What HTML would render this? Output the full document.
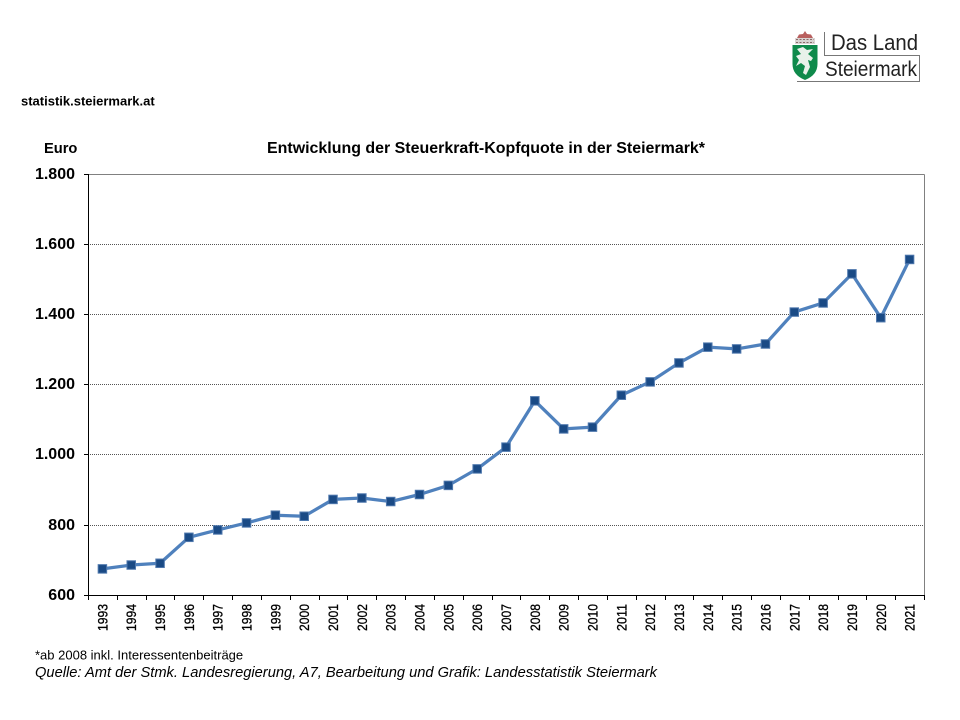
<!DOCTYPE html>
<html lang="de">
<head>
<meta charset="utf-8">
<title>Entwicklung der Steuerkraft-Kopfquote in der Steiermark</title>
<style>
html,body{margin:0;padding:0;background:#fff;}
svg{display:block;font-family:"Liberation Sans",sans-serif;}
</style>
</head>
<body>
<svg id="chart" width="960" height="720" viewBox="0 0 960 720" xmlns="http://www.w3.org/2000/svg">
  <rect width="960" height="720" fill="#fff"/>
  <g id="logo">
    <path d="M797 38 L799 34.500 L803 34 L805 31 L807 34 L811 34.500 L813 38 Z" fill="#b9605f"/>
    <rect x="795" y="38" width="20" height="6" fill="#d9d4d2"/>
    <path d="M796 39.500 H814 M796 42.500 H814" stroke="#8a6a6a" stroke-width="1" stroke-dasharray="2 1.500"/>
    <path d="M792.500 45 H817.500 V64 Q817.500 75 805 80 Q792.500 75 792.500 64 Z" fill="#0f8a4b"/>
    <path d="M797 49 L803 47 L807 50 L813 49 L808 54 L813 58 L811 61 L808 60 L810 67 L806 75 L803 73 L805 66 L801 63 L796 66 L799 60 L796 56 L801 54 Z" fill="#e8f1ea"/>
    <path d="M824.500 32 V55.500 H919.500 V81.500 H797" fill="none" stroke="#777" stroke-width="1"/>
    <text x="831" y="50" font-size="22" fill="#222" textLength="87" lengthAdjust="spacingAndGlyphs">Das Land</text>
    <text x="825" y="76" font-size="21.500" fill="#222" textLength="92" lengthAdjust="spacingAndGlyphs">Steiermark</text>
  </g>
  <text x="21" y="105.500" font-size="13" font-weight="700" fill="#000">statistik.steiermark.at</text>
  <text x="44" y="153" font-size="14.670" font-weight="700" fill="#000">Euro</text>
  <text x="267" y="153" font-size="15.500" font-weight="700" fill="#000" textLength="438" lengthAdjust="spacingAndGlyphs">Entwicklung der Steuerkraft-Kopfquote in der Steiermark*</text>
  <g id="grid"></g>
  <g id="axes"></g>
  <g id="series"></g>
  <text x="35" y="659.500" font-size="13" fill="#000">*ab 2008 inkl. Interessentenbeiträge</text>
  <text x="35" y="677" font-size="15" font-style="italic" fill="#000" textLength="622" lengthAdjust="spacingAndGlyphs">Quelle: Amt der Stmk. Landesregierung, A7, Bearbeitung und Grafik: Landesstatistik Steiermark</text>
</svg>
<script>
const categories = ['1993','1994','1995','1996','1997','1998','1999','2000','2001','2002','2003','2004','2005','2006','2007','2008','2009','2010','2011','2012','2013','2014','2015','2016','2017','2018','2019','2020','2021'];
const seriesValues = [675,686,691,765,786,806,828,825,873,877,867,887,913,960,1022,1154,1074,1079,1170,1208,1262,1307,1302,1316,1407,1433,1516,1391,1557];
const yTicks = [600,800,1000,1200,1400,1600,1800];
const yTickLabels = ['600','800','1.000','1.200','1.400','1.600','1.800'];

const NS = 'http://www.w3.org/2000/svg';
const plotLeft = 88, plotRight = 924, plotTop = 174.2, plotBottom = 595.2;
const yMin = 600, yMax = 1800;
const band = (plotRight - plotLeft) / categories.length;
const xPos = i => plotLeft + band * (i + 0.5);
const xEdge = i => plotLeft + band * i;
const yPos = v => plotBottom - (v - yMin) / (yMax - yMin) * (plotBottom - plotTop);
const axisTop = Math.floor(plotTop) + 0.5, axisBottom = Math.floor(plotBottom) + 0.5;

function make(tag, attrs, parent, text) {
  const el = document.createElementNS(NS, tag);
  for (const k in attrs) el.setAttribute(k, attrs[k]);
  if (text !== undefined) el.textContent = text;
  parent.appendChild(el);
  return el;
}

const grid = document.getElementById('grid');
const axes = document.getElementById('axes');
const series = document.getElementById('series');

yTicks.forEach((t, i) => {
  const y = Math.floor(yPos(t)) + 0.5;
  if (t > yMin && t < yMax) {
    const g = make('line', {x1: plotLeft, x2: plotRight, y1: y, y2: y, stroke: '#555', 'stroke-width': 1, 'stroke-dasharray': '1 1'}, grid);
    
    
  }
  const tick = make('line', {x1: plotLeft - 4, x2: plotLeft, y1: y, y2: y, stroke: '#000', 'stroke-width': 1}, axes);
  
  
  const lab = make('text', {x: plotLeft - 13, y: y + 4.5, 'text-anchor': 'end', 'font-size': 16, 'font-weight': 700, fill: '#000'}, axes, yTickLabels[i]);
  
  
});

const topLine = make('line', {x1: plotLeft, x2: plotRight + 0.5, y1: axisTop, y2: axisTop, stroke: '#808080', 'stroke-width': 1}, axes);


const rightLine = make('line', {x1: plotRight + 0.5, x2: plotRight + 0.5, y1: axisTop, y2: axisBottom, stroke: '#808080', 'stroke-width': 1}, axes);


const yAxis = make('line', {x1: plotLeft + 0.5, x2: plotLeft + 0.5, y1: axisTop - 0.5, y2: axisBottom + 0.5, stroke: '#000', 'stroke-width': 1}, axes);


const xAxis = make('line', {x1: plotLeft, x2: plotRight + 1, y1: axisBottom, y2: axisBottom, stroke: '#000', 'stroke-width': 1}, axes);



for (let i = 0; i <= categories.length; i++) {
  const x = Math.round(xEdge(i)) + 0.5;
  const tick = make('line', {x1: x, x2: x, y1: axisBottom, y2: axisBottom + 4.5, stroke: '#000', 'stroke-width': 1}, axes);
  
  
}

categories.forEach((c, i) => {
  const x = xPos(i) + 5, y = 631;
  const lab = make('text', {x: x, y: y, transform: 'rotate(-90 ' + x + ' ' + y + ')', 'font-size': 14, fill: '#000', stroke: '#000', 'stroke-width': 0.3, textLength: 27, lengthAdjust: 'spacingAndGlyphs'}, axes, c);
  
  
});

const pts = seriesValues.map((v, i) => xPos(i).toFixed(2) + ',' + yPos(v).toFixed(2)).join(' ');
const line = make('polyline', {points: pts, fill: 'none', stroke: '#4f81bd', 'stroke-width': 3.25, 'stroke-linejoin': 'round'}, series);



seriesValues.forEach((v, i) => {
  const s = 8.5;
  const r = make('rect', {x: xPos(i) - s / 2, y: yPos(v) - s / 2, width: s, height: s, fill: '#1a4a85', stroke: '#4f78ad', 'stroke-width': 1}, series);
  
  
});
</script>
</body>
</html>
